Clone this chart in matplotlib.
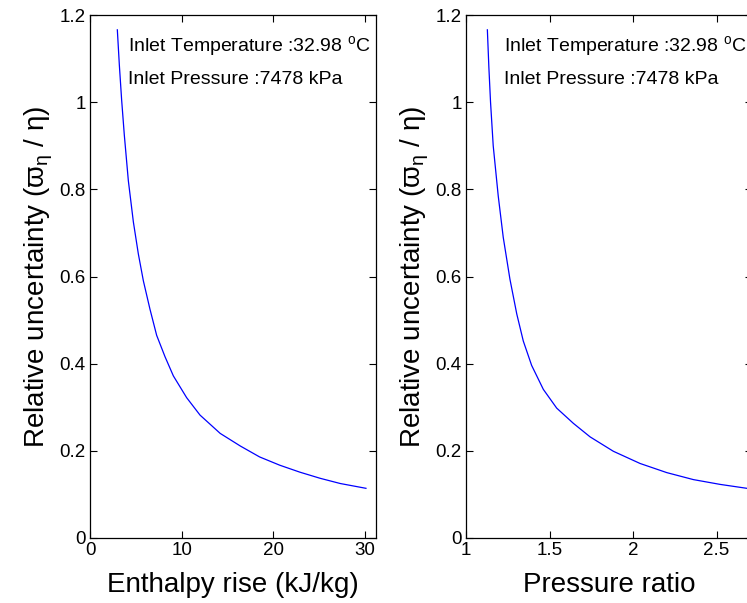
# plot.py
# Relative uncertainty vs enthalpy rise and vs pressure ratio (two panels, MATLAB look)

import matplotlib
matplotlib.use("Agg")
import matplotlib.pyplot as plt

plt.rcParams['font.family'] = ['Liberation Sans', 'DejaVu Sans']
plt.rcParams['mathtext.fontset'] = 'custom'
plt.rcParams['mathtext.rm'] = 'DejaVu Sans'
plt.rcParams['mathtext.it'] = 'DejaVu Sans'

# Values
enthalpy_rise = [2.98, 3.2, 3.45, 3.74, 4.18, 4.73, 5.27, 5.82, 6.54, 7.27, 8.18,
                 9.09, 10.54, 12.0, 14.2, 16.4, 18.5, 20.7, 22.9, 25.1, 27.3, 30.1]
pressure_ratio = [1.128, 1.137, 1.147, 1.163, 1.193, 1.223, 1.263, 1.304, 1.343,
                  1.393, 1.463, 1.543, 1.643, 1.743, 1.882, 2.042, 2.202, 2.361,
                  2.521, 2.681]
rel_unc_h = [1.166, 1.085, 1.005, 0.925, 0.82, 0.725, 0.652, 0.59, 0.525, 0.465, 0.416,
             0.372, 0.322, 0.282, 0.240, 0.211, 0.186, 0.167, 0.151, 0.137, 0.125, 0.114]
rel_unc_p = [1.166, 1.08, 1.0, 0.90, 0.785, 0.69, 0.594, 0.514, 0.452, 0.396, 0.341,
             0.298, 0.263, 0.232, 0.199, 0.171, 0.150, 0.134, 0.123, 0.114]

x_labels = ['Enthalpy rise (kJ/kg)', 'Pressure ratio']
x_ticks = [[0, 10, 20, 30], [1, 1.5, 2, 2.5]]
x_tick_labels = [['0', '10', '20', '30'], ['1', '1.5', '2', '2.5']]
y_ticks = [0, 0.2, 0.4, 0.6, 0.8, 1, 1.2]
y_tick_labels = ['0', '0.2', '0.4', '0.6', '0.8', '1', '1.2']
note_lines = [r'Inlet Temperature :32.98 $^{\mathregular{o}}$C', 'Inlet Pressure :7478 kPa']
y_label = r'Relative uncertainty ($\mathregular{\varpi_{\eta}}$ / $\mathregular{\eta}$)'

fig = plt.figure(figsize=(7.47, 6.03), dpi=100)

# axes boxes, right one runs a little past the figure edge like the original
ax1 = fig.add_axes([0.1205, 0.1078, 0.3829, 0.8673])
ax2 = fig.add_axes([0.6238, 0.1078, 0.3829, 0.8673])

ax1.plot(enthalpy_rise, rel_unc_h, color='#0000ff', linewidth=0.9)
ax2.plot(pressure_ratio, rel_unc_p, color='#0000ff', linewidth=0.9)

ax1.set_xlim(0, 31.2)
ax2.set_xlim(1, 2.712)

for i, ax in enumerate([ax1, ax2]):
    ax.set_ylim(0, 1.2)
    ax.set_xticks(x_ticks[i])
    ax.set_xticklabels(x_tick_labels[i])
    ax.set_yticks(y_ticks)
    ax.set_yticklabels(y_tick_labels)
    ax.tick_params(direction='in', top=True, right=True, length=5, width=0.8,
                   labelsize=13.5, pad=3)
    for s in ax.spines.values():
        s.set_linewidth(0.9)
    ax.set_xlabel(x_labels[i], fontsize=20, labelpad=9)
    ax.set_ylabel(y_label, fontsize=20, labelpad=3)
    ax.text(0.133, 0.939, note_lines[0], transform=ax.transAxes,
            fontsize=14, va='center', ha='left')
    ax.text(0.133, 0.877, note_lines[1], transform=ax.transAxes,
            fontsize=14, va='center', ha='left')

fig.savefig('out.png', dpi=100)
